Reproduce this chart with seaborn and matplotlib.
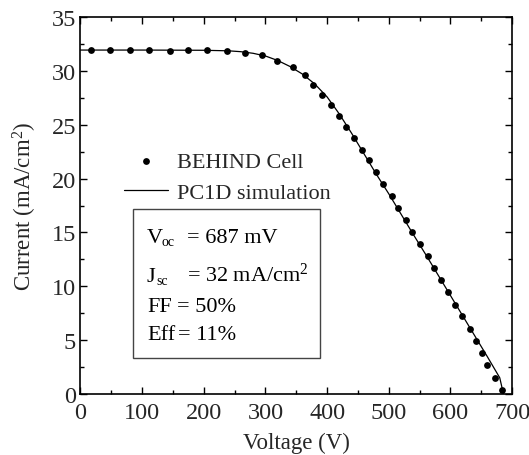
import matplotlib
matplotlib.use("Agg")
import matplotlib.pyplot as plt
import seaborn as sns
import pandas as pd
from matplotlib.patches import Rectangle
from matplotlib.ticker import MultipleLocator

# Measured data (BEHIND Cell)
meas_voltage = [16.5, 48, 80, 112, 145, 175, 206, 237, 267, 294, 318, 344, 364, 377,
                391, 406, 420, 431, 444, 456, 468, 479, 491, 505, 515, 528, 538, 551,
                563, 573, 584, 596, 608, 618, 632, 642, 651, 660, 672, 683]
meas_current = [32.0, 32.0, 32.0, 32.0, 31.9, 32.0, 32.0, 31.9, 31.7, 31.45, 30.9, 30.35,
                29.6, 28.75, 27.8, 26.8, 25.8, 24.8, 23.75, 22.7, 21.7, 20.6, 19.5, 18.4,
                17.25, 16.2, 15.05, 13.9, 12.8, 11.7, 10.6, 9.45, 8.3, 7.25, 6.05, 4.9,
                3.8, 2.67, 1.5, 0.37]

# PC1D simulation curve
sim_voltage = [0, 100, 200, 240, 260, 280, 300, 320, 340, 360, 380, 400, 420, 440,
               460, 480, 500, 520, 540, 560, 580, 600, 620, 640, 660, 680, 686]
sim_current = [31.95, 31.95, 31.93, 31.88, 31.8, 31.65, 31.4, 30.98, 30.42, 29.72,
               28.8, 27.6, 26.0, 24.2, 22.3, 20.4, 18.6, 16.7, 14.8, 12.95, 11.05,
               9.15, 7.25, 5.35, 3.45, 1.5, 0.0]

x_ticks = [0, 100, 200, 300, 400, 500, 600, 700]
y_ticks = [0, 5, 10, 15, 20, 25, 30, 35]

info_names = ["V", "J", "FF", "Eff"]
info_subs = ["oc", "sc", "", ""]
info_values = ["= 687 mV", r"= 32 mA/cm$^{2}$", "= 50%", "= 11%"]

sns.set_theme(style="ticks")
plt.rcParams["font.family"] = ["Liberation Serif", "DejaVu Serif"]
plt.rcParams["mathtext.fontset"] = "custom"
plt.rcParams["mathtext.rm"] = "Liberation Serif"
plt.rcParams["mathtext.it"] = "Liberation Serif:italic"
plt.rcParams["font.size"] = 16

fig = plt.figure(figsize=(5.29, 4.56), dpi=100)
ax = fig.add_axes([0.152, 0.134, 0.816, 0.826])

df_m = pd.DataFrame({"V": meas_voltage, "I": meas_current})
df_s = pd.DataFrame({"V": sim_voltage, "I": sim_current})

sns.scatterplot(data=df_m, x="V", y="I", ax=ax, color="black", s=24,
                edgecolor="black", linewidth=0, label="BEHIND Cell", zorder=3)
sns.lineplot(data=df_s, x="V", y="I", ax=ax, color="black", linewidth=0.9,
             label="PC1D simulation", sort=False, estimator=None, zorder=2)

ax.set_xlim(0, 700)
ax.set_ylim(0, 35)
ax.set_xticks(x_ticks)
ax.set_yticks(y_ticks)
ax.xaxis.set_minor_locator(MultipleLocator(50))
ax.yaxis.set_minor_locator(MultipleLocator(2.5))
ax.tick_params(which="both", direction="in", top=True, right=True, labelsize=17.5,
               color="black")
ax.tick_params(axis="x", which="both", pad=6)
ax.tick_params(axis="y", which="both", pad=3)
ax.tick_params(which="major", length=5, width=1)
ax.tick_params(which="minor", length=3, width=1)
for sp in ax.spines.values():
    sp.set_color("black")
    sp.set_linewidth(1.2)

ax.set_xlabel("Voltage (V)", fontsize=16.5, labelpad=6)
ax.set_ylabel(r"Current (mA/cm$^{2}$)", fontsize=16.5, labelpad=9)

leg = ax.legend(loc="upper left", bbox_to_anchor=(0.1, 0.645), frameon=False,
                fontsize=16, handlelength=2.0, handletextpad=0.4, borderpad=0,
                borderaxespad=0, labelspacing=0.5)

ax.add_patch(Rectangle((0.122, 0.096), 0.433, 0.395, transform=ax.transAxes,
                       fill=False, edgecolor="#444444", linewidth=1.0, zorder=4))

def fx(px):
    return (px - 80.5) / 431.5

y_pos = [0.4035, 0.3008, 0.221, 0.146]
sub_x = [162, 156, 0, 0]
val_x = [187, 187, 177, 178]
for name, sub, val, yy, sx, vx in zip(info_names, info_subs, info_values,
                                      y_pos, sub_x, val_x):
    ax.text(fx(147), yy, name, transform=ax.transAxes, fontsize=16,
            va="baseline", ha="left", color="black")
    if sub:
        ax.text(fx(sx), yy - 0.009, sub, transform=ax.transAxes, fontsize=10,
                va="baseline", ha="left", color="black")
    ax.text(fx(vx), yy, val, transform=ax.transAxes, fontsize=16,
            va="baseline", ha="left", color="black")

fig.savefig("out.png", dpi=100)
